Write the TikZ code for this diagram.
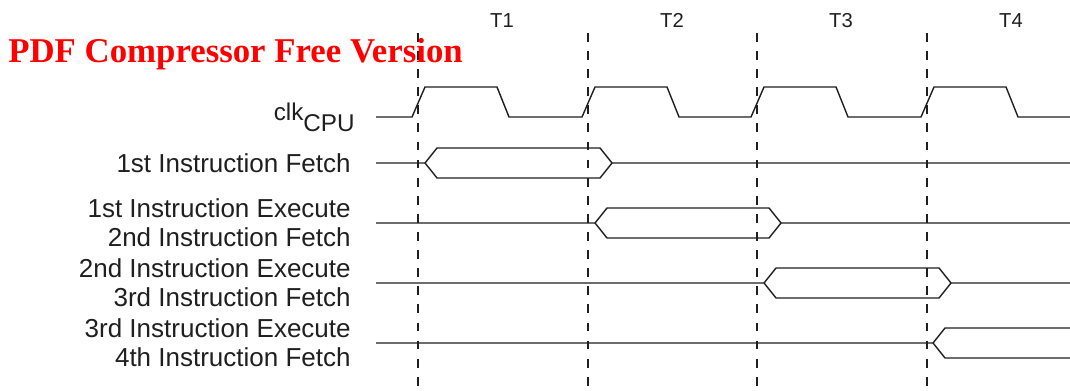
\documentclass[tikz,border=0pt]{standalone}
\usepackage{fontspec}
\setmainfont{Liberation Sans}
\newfontfamily\wmfont{Liberation Serif}
\usepackage{tikz}
\usepackage{color}

\definecolor{sig}{gray}{0.12}
\tikzset{
  wave/.style={color=sig,line width=0.8pt,line join=miter},
  tick/.style={color=sig,line width=0.8pt,dash pattern=on 5pt off 5.3pt},
  lbl/.style={anchor=east,inner sep=0pt,align=right,text=sig,font=\fontsize{14.8}{16.4}\selectfont},
  tlbl/.style={anchor=base,inner sep=0pt,text=sig,font=\fontsize{11.5}{13}\selectfont}
}

\begin{document}
\begin{tikzpicture}[x=0.02cm,y=-0.02cm]
\useasboundingbox (0,0) rectangle (1070,390);
%% takty
\foreach \e/\t in {418/1,588/2,757/3,927/4}
  {\draw [tick] (\e,33) -- (\e,390);
   \node [tlbl] (T\t) at ({\e+84},27) {T\t};}
%% clk
\draw [wave] (376,117) foreach \e in {418,588,757,927}
  { -- ({\e-6},117) -- ({\e+7},87) -- ({\e+79},87) -- ({\e+91},117) } -- (1070,117);
%% shiny
\foreach \a/\b/\y in {418/588/163,588/757/223,757/927/283}
  {\draw [wave] (376,\y) -- ({\a+7},\y) -- ({\a+19},{\y-15}) -- ({\b+12},{\y-15})
     -- ({\b+24},\y) -- (1070,\y);
   \draw [wave] ({\a+7},\y) -- ({\a+19},{\y+15}) -- ({\b+12},{\y+15}) -- ({\b+24},\y);}
\draw [wave] (376,343) -- (933,343) -- (945,328) -- (1070,328);
\draw [wave] (933,343) -- (945,358) -- (1070,358);
%% podpisi
\node [lbl,anchor=base east,font=\fontsize{13.8}{16}\selectfont] (clk) at (355,120) {clk\raisebox{-6.8pt}{CPU}};
\node [lbl] (s1) at (351,163) {1st Instruction Fetch};
\node [lbl] (s2) at (351,223) {1st Instruction Execute\\2nd Instruction Fetch};
\node [lbl] (s3) at (351,283) {2nd Instruction Execute\\3rd Instruction Fetch};
\node [lbl] (s4) at (351,343) {3rd Instruction Execute\\4th Instruction Fetch};
\node [anchor=base west,inner sep=0pt,text=red,font=\wmfont\bfseries\fontsize{19.8}{24}\selectfont] (wm) at (8,62) {PDF Compressor Free Version};
\end{tikzpicture}
\end{document}
